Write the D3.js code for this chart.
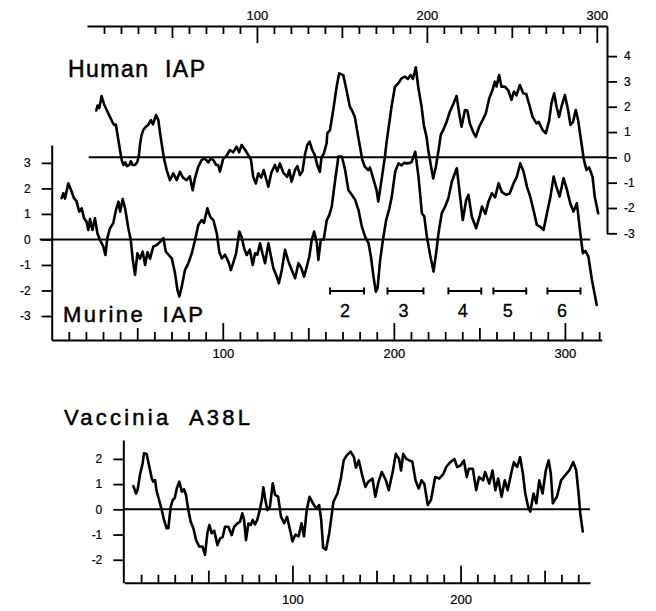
<!DOCTYPE html>
<html><head><meta charset="utf-8">
<script src="https://cdn.jsdelivr.net/npm/d3@7"></script>
<style>body{margin:0;background:#fff}svg{display:block}</style>
</head><body>
<svg id="c" width="656" height="611"></svg>
<script>
// ---------- DATA (residue position, hydrophobicity value) ----------
const humanProfile=[[5.5,1.85],[6.2,2.05],[7.2,1.95],[8.6,2.42],[10,2.1],[11.6,1.87],[13.5,1.6],[15.3,1.35],[15.9,1.28],[17,1.3],[17.8,0.95],[19.4,0.29],[20.4,-0.1],[21.5,-0.3],[22.5,-0.2],[23.5,-0.35],[24.9,-0.3],[25.8,-0.15],[26.8,-0.3],[28.2,-0.3],[29.5,-0.2],[30.5,0.05],[31.2,0.5],[32,0.85],[33.1,1.08],[34.5,1.2],[36,1.28],[37.6,1.47],[38.8,1.3],[40.6,1.67],[42,1.47],[43,0.96],[44.5,0.29],[45.5,-0.1],[46.9,-0.5],[48.8,-0.9],[50.8,-0.63],[52.8,-0.9],[54.7,-0.57],[56.5,-0.8],[58.6,-0.9],[60.5,-0.75],[62.2,-1.3],[63.5,-0.83],[65.5,-0.37],[67.5,-0.1],[69.4,-0.05],[71.4,-0.2],[72.8,-0.05],[74.3,-0.1],[76,-0.3],[77.2,-0.3],[78.2,-0.57],[80.2,-0.04],[82,0.05],[84.1,0.29],[86,0.2],[88,0.42],[89.5,0.2],[91,0.49],[93,0.3],[94.9,0.09],[96.5,-0.1],[97.8,-0.77],[99.4,-1.03],[100.8,-0.63],[102.5,-0.8],[104,-0.5],[106.7,-1.16],[108.5,-0.6],[110.6,-0.3],[112,-0.55],[113.5,-0.24],[115.5,-0.6],[117.8,-0.77],[119,-0.5],[120.4,-0.96],[122.4,-0.5],[123.8,-0.35],[125.3,-0.7],[126.8,-0.55],[128.2,0.09],[129.6,0.49],[131,0.62],[132.5,0.3],[134,0.1],[135.5,-0.3],[137,-0.57],[138,0.0],[139.4,0.16],[141,0.55],[141.4,0.95],[143,1.08],[144.9,1.87],[146.9,2.79],[148.4,3.32],[150.8,3.25],[152.7,2.66],[154.7,2.0],[156,1.85],[157.6,1.6],[159.6,0.81],[161,0.29],[162,-0.1],[163.5,-0.37],[165.5,-0.5],[166.5,-0.4],[168.4,-0.83],[170.4,-1.29],[171.4,-1.75],[173.3,-0.9],[175.3,0.02],[176.2,0.55],[177.3,1.08],[179.2,2.0],[181.2,2.79],[183.1,2.92],[185.1,3.12],[187.1,3.19],[188.8,3.1],[190.4,3.25],[191.8,3.1],[193.5,3.56],[194.9,2.79],[196.9,2.0],[198.2,1.28],[199.8,0.81],[200.8,0.29],[201.8,-0.1],[203.7,-0.83],[205.3,-0.37],[207.2,0.42],[208.2,0.9],[209.6,1.08],[211.6,1.4],[213.5,1.8],[215.5,2.1],[217.5,2.43],[219,1.74],[220.4,1.21],[222.4,1.87],[223.8,1.85],[225.3,1.34],[227.2,1.01],[228.8,0.81],[230.8,1.21],[232.8,1.47],[234.7,1.74],[236.7,2.33],[238.6,2.66],[240,2.99],[241,2.8],[242.5,3.25],[243.9,2.79],[245.8,2.8],[247.8,2.66],[249.8,2.27],[251.2,2.6],[252.7,2.45],[254.7,2.86],[256.7,2.53],[258.5,2.5],[260.6,2.0],[262.2,1.6],[264.5,1.34],[265.8,1.4],[268.1,1.08],[270,0.95],[272,1.47],[273.3,2.13],[274.9,2.53],[276.3,2.0],[277.8,1.6],[279.2,2.0],[281.2,2.46],[283.1,1.87],[284.5,1.28],[286,1.4],[287.6,1.87],[289,1.47],[291,0.55],[292.4,-0.1],[293.9,-0.5],[295.5,-0.4],[297.5,-0.77],[298.8,-1.56],[300.8,-2.21]];

const murineProfile=[[5.8,1.62],[6.8,1.81],[7.8,1.6],[9.7,2.2],[11.7,1.87],[13,1.62],[14.5,1.5],[16.1,1.09],[17.5,1.22],[18.9,0.83],[20.3,0.7],[21.4,0.37],[22.4,0.8],[23.8,0.37],[25.3,0.83],[26.7,0.24],[28.2,-0.02],[30.2,-0.28],[31.4,-0.61],[32.5,0.05],[34.1,0.44],[36,0.64],[37.6,1.16],[39,1.48],[40,1.09],[41.5,1.58],[42.9,1.22],[44.8,0.44],[46.2,-0.02],[47.4,-0.8],[48.7,-1.39],[50.1,-0.54],[51.6,-0.75],[53.2,-0.48],[54.6,-1.0],[56,-0.5],[57.5,-0.75],[59.4,-0.28],[61.4,-0.22],[63.3,-0.1],[65.3,0.05],[66.7,-0.48],[68.3,-0.6],[70.2,-0.74],[72.1,-1.33],[73.5,-1.98],[74.6,-2.24],[76,-1.85],[77.9,-1.2],[79.9,-0.93],[81.9,-0.54],[83.8,-0.02],[85.7,0.57],[87.7,0.76],[89,0.65],[91,1.22],[92.6,0.89],[94.5,0.76],[96.5,0.24],[98,-0.5],[99.4,-0.74],[101.3,-0.6],[103.3,-0.87],[104.7,-1.2],[106.2,-0.9],[107.8,-0.54],[109.7,0.31],[111,0.1],[112.5,-0.35],[114,-0.61],[115.8,-0.4],[117.5,-1.0],[118.9,-0.54],[120.2,-0.6],[121.8,-0.15],[123.2,-0.55],[124.7,-0.93],[126.7,-0.15],[128,-0.6],[129.6,-1.13],[131.2,-1.39],[132.8,-1.72],[134.5,-1.2],[136.4,-0.41],[138.4,-0.87],[140.3,-1.2],[142.3,-1.52],[144.2,-0.93],[145.8,-1.1],[147.5,-1.46],[149.1,-1.07],[150.6,-0.67],[152,-0.02],[153.4,0.31],[155,-0.15],[155.9,-0.8],[157.3,-0.02],[159,0.0],[160.8,0.76],[162.3,0.96],[163.7,1.29],[165.7,2.33],[167.6,3.25],[169.6,3.25],[171.5,2.73],[173.4,1.94],[175.4,1.75],[177.4,1.55],[179.3,1.16],[181.3,0.5],[183.2,0.11],[185.2,-0.15],[186.6,-0.67],[188.1,-1.46],[189.5,-2.05],[190.5,-1.9],[192,-0.8],[193.6,-0.02],[195.5,0.76],[197.4,1.22],[198.8,1.68],[200.8,2.66],[202.7,2.98],[204.5,2.9],[206,3.0],[207.6,2.98],[209.5,3.0],[210.5,3.05],[212.5,3.44],[214.4,2.46],[216.4,1.03],[217.8,0.9],[219.3,0.11],[221.2,-0.61],[223.2,-1.26],[224.7,-0.54],[226.1,0.24],[228,1.03],[230,1.29],[231.9,1.62],[233.9,2.27],[236.8,2.79],[238.3,1.94],[240.3,0.76],[242.3,1.55],[243.6,1.75],[245.6,0.89],[248.1,0.44],[250.1,0.89],[251.5,1.29],[253.5,1.0],[255.3,1.48],[257.3,1.81],[259.2,1.65],[261.2,2.2],[263.2,1.85],[265.7,1.75],[267.7,1.8],[270,2.2],[271.9,2.46],[273.9,2.98],[275.8,2.66],[277.8,2.07],[279.7,1.68],[281.6,1.16],[283.6,0.57],[285.5,0.5],[287.5,0.37],[289.5,1.03],[291.4,1.62],[293.4,2.46],[295,2.07],[296.9,1.68],[299.2,2.4],[301.2,1.94],[303.1,1.42],[305,1.09],[307,1.42],[309,0.24],[310.5,-0.54],[312,-0.45],[313.7,-0.67],[315.8,-1.59],[318.6,-2.57]];

const vacciniaProfile=[[5.4,0.92],[7,0.63],[8,0.8],[9.3,1.36],[10.9,1.82],[11.7,2.22],[13.3,2.19],[14.9,1.69],[16.3,1.23],[17.2,1.1],[18.3,1.16],[19.3,0.7],[20.7,0.37],[22.3,-0.03],[23.6,-0.42],[25.2,-0.75],[26.2,-0.75],[27.6,0.1],[28.8,0.37],[30,0.45],[31.2,0.83],[32.7,1.1],[34.2,0.7],[35.5,0.8],[36.7,0.57],[38.1,-0.03],[39.5,-0.49],[41.1,-0.75],[42.7,-1.22],[44.6,-1.48],[46.5,-1.48],[48,-1.81],[49.4,-0.95],[50.6,-0.62],[52,-0.95],[53.5,-0.85],[55.4,-1.42],[57,-1.15],[58.5,-1.1],[59.9,-0.69],[61.9,-0.69],[63.9,-1.02],[65.3,-0.7],[67.3,-0.56],[68.8,-0.5],[70.2,-0.16],[71.2,-0.4],[72.4,-1.22],[73.8,-0.56],[75.2,-0.62],[76.4,-0.42],[77.7,-0.6],[79.1,-0.42],[80.8,0.04],[81.8,0.37],[82.7,0.87],[83.9,0.37],[85.1,-0.03],[86.6,0.1],[88.3,1.03],[89.7,0.57],[91.5,0.5],[93.2,-0.29],[95.1,-0.55],[96.8,-0.3],[98.8,-0.88],[100,-1.27],[101.8,-1.0],[103.7,-1.07],[105.4,-0.55],[106.9,-1.07],[108.5,-0.03],[110.2,0.5],[112.2,0.24],[114.1,0.04],[115.9,0.17],[117.1,-0.42],[118.3,-1.53],[120,-1.6],[121.9,-0.94],[124.4,0.3],[126.8,0.63],[128.8,1.22],[130.5,1.94],[132.2,2.13],[134.6,2.29],[136.6,2.07],[137.8,1.65],[139.5,1.94],[141.5,1.35],[143.4,0.89],[145.1,1.09],[147.6,1.22],[149.3,0.5],[151.2,1.09],[153.2,1.48],[155.6,1.15],[157.3,0.76],[159.8,1.54],[161.5,2.2],[163.4,2.0],[164.6,1.54],[165.9,2.2],[167.7,2.0],[169.5,1.94],[171.3,1.9],[173.2,1.15],[175.1,0.82],[176.8,1.15],[178.5,1.0],[180.5,0.17],[182.4,0.37],[184.9,1.28],[187.3,1.22],[189.8,1.41],[191.5,1.68],[193.9,1.87],[196.3,2.0],[198,1.68],[200,1.74],[202,1.94],[203.7,1.28],[204.9,1.61],[207.3,1.61],[209.3,0.76],[211,1.28],[213.4,1.15],[214.6,1.48],[217.1,1.02],[219,1.54],[220.7,0.76],[222.4,1.22],[224.4,0.5],[226.3,1.15],[228,0.76],[230.5,1.54],[231.7,1.87],[233.7,1.68],[235.4,2.07],[237.1,1.41],[238.5,0.63],[240.2,0.1],[241.5,-0.09],[243.4,0.63],[245.1,0.24],[246.8,1.15],[248.8,0.63],[250.7,1.54],[252.4,1.94],[253.7,1.41],[254.9,0.24],[257.3,0.5],[259.8,1.15],[262.2,1.35],[264.6,1.54],[267.1,1.87],[268.8,1.54],[270.2,0.63],[271.2,-0.16],[272.7,-0.88]];

// transmembrane-like segments marked under the murine curve
const segStart=[162.7,196.3,231.9,258.2,289.8];
const segEnd=[182.6,217.3,251.1,277.4,309.1];
const segLabel=["2","3","4","5","6"];

// tick values / labels
const humanXTicks=d3.range(10,301,10);
const humanYTicks=[-3,-2,-1,0,1,2,3,4];
const murineXTicks=d3.range(10,321,10);
const murineYTicks=[-3,-2,-1,0,1,2,3];
const vacciniaXTicks=d3.range(10,271,10);
const vacciniaYTicks=[-2,-1,0,1,2];
const labelledX=[100,200,300];
const titles=["Human  IAP","Murine  IAP","Vaccinia  A38L"];

// ---------- DRAW ----------
const ink="#000";
const font="'Liberation Sans', Arial, Helvetica, sans-serif";
const svg=d3.select("#c");
const tickLen=d=> d%100===0?17:(d%50===0?12:8);
const fmtX=d=> labelledX.includes(d)?String(d):"";
const fmtY=d=> String(d);

function styleAxis(g,fs){
  g.select(".domain").attr("stroke",ink).attr("stroke-width",2);
  g.selectAll(".tick line").attr("stroke",ink).attr("stroke-width",1.8);
  g.selectAll(".tick text").attr("fill",ink).attr("font-family",font).attr("font-size",fs)
    .attr("stroke",ink).attr("stroke-width",0.2);
}
const line=(x,y)=>d3.line().x(d=>x(d[0])).y(d=>y(d[1])).curve(d3.curveLinear);
function drawCurve(data,x,y){
  svg.append("path").datum(data).attr("d",line(x,y)).attr("fill","none")
    .attr("stroke",ink).attr("stroke-width",2.6).attr("stroke-linejoin","round").attr("stroke-linecap","round");
}

// ---- Human IAP (top axis + right axis) ----
const xH=d3.scaleLinear().domain([0,306]).range([87,607]);
const yH=d3.scaleLinear().domain([-3,5.19]).range([233.3,26]);
const gTop=svg.append("g").attr("transform",`translate(0,${yH.range()[1]})`)
  .call(d3.axisTop(xH).tickValues(humanXTicks).tickSizeInner(-8).tickSizeOuter(0).tickPadding(6).tickFormat(fmtX));
gTop.selectAll(".tick line").attr("y2",d=>tickLen(d));
styleAxis(gTop,13);
const gRight=svg.append("g").attr("transform",`translate(${xH.range()[1]},0)`)
  .call(d3.axisRight(yH).tickValues(humanYTicks).tickSize(10).tickSizeOuter(0).tickPadding(7).tickFormat(fmtY));
styleAxis(gRight,12);
svg.append("line").attr("x1",xH(1)).attr("x2",xH.range()[1]).attr("y1",yH(0)).attr("y2",yH(0))
  .attr("stroke",ink).attr("stroke-width",2);
drawCurve(humanProfile,xH,yH);

// ---- Murine IAP (left axis + bottom axis) ----
const xM=d3.scaleLinear().domain([0,321.5]).range([51.7,601.7]);
const yM=d3.scaleLinear().domain([-3.94,3.7]).range([340,145]);
const gML=svg.append("g").attr("transform",`translate(${xM.range()[0]},0)`)
  .call(d3.axisLeft(yM).tickValues(murineYTicks).tickSize(10).tickSizeOuter(0).tickPadding(11).tickFormat(fmtY));
styleAxis(gML,12);
const gMB=svg.append("g").attr("transform",`translate(0,${yM.range()[0]})`)
  .call(d3.axisBottom(xM).tickValues(murineXTicks).tickSizeInner(-8).tickSizeOuter(0).tickPadding(9).tickFormat(fmtX));
gMB.selectAll(".tick line").attr("y2",d=>-tickLen(d));
styleAxis(gMB,13);
svg.append("line").attr("x1",xM.range()[0]-12).attr("x2",xM(314.8)).attr("y1",yM(0)).attr("y2",yM(0))
  .attr("stroke",ink).attr("stroke-width",2);
drawCurve(murineProfile,xM,yM);

// segment markers
const segY=yM(-2.02);
const segs=svg.append("g").selectAll("g").data(segStart.map((s,i)=>({s,e:segEnd[i],l:segLabel[i]}))).join("g");
segs.append("line").attr("x1",d=>xM(d.s)).attr("x2",d=>xM(d.e)).attr("y1",segY).attr("y2",segY).attr("stroke",ink).attr("stroke-width",2);
segs.append("line").attr("x1",d=>xM(d.s)).attr("x2",d=>xM(d.s)).attr("y1",segY-3.5).attr("y2",segY+3.5).attr("stroke",ink).attr("stroke-width",2);
segs.append("line").attr("x1",d=>xM(d.e)).attr("x2",d=>xM(d.e)).attr("y1",segY-3.5).attr("y2",segY+3.5).attr("stroke",ink).attr("stroke-width",2);
segs.append("text").attr("x",d=>xM((d.s+d.e)/2)-2).attr("y",segY+26).attr("text-anchor","middle")
  .attr("font-family",font).attr("font-size",18).attr("fill",ink).attr("stroke",ink).attr("stroke-width",0.3).text(d=>d.l);

// ---- Vaccinia A38L ----
const xV=d3.scaleLinear().domain([0,277]).range([124.3,590]);
const yV=d3.scaleLinear().domain([-2.91,2.75]).range([582.7,440]);
const gVL=svg.append("g").attr("transform",`translate(${xV.range()[0]-1},0)`)
  .call(d3.axisLeft(yV).tickValues(vacciniaYTicks).tickSize(10).tickSizeOuter(0).tickPadding(11).tickFormat(fmtY));
styleAxis(gVL,12);
const gVB=svg.append("g").attr("transform",`translate(0,${yV.range()[0]})`)
  .call(d3.axisBottom(xV).tickValues(vacciniaXTicks).tickSizeInner(-8).tickSizeOuter(0).tickPadding(12).tickFormat(fmtX));
gVB.selectAll(".tick line").attr("y2",d=>-tickLen(d));
styleAxis(gVB,13);
svg.append("line").attr("x1",xV(0)).attr("x2",xV(277)).attr("y1",yV(0)).attr("y2",yV(0))
  .attr("stroke",ink).attr("stroke-width",2);
drawCurve(vacciniaProfile,xV,yV);

// ---- titles ----
const titlePos=[[68,77,23,137],[63,321.7,22,140],[64,425,22,186]];
svg.append("g").selectAll("text").data(titles).join("text")
  .attr("x",(d,i)=>titlePos[i][0]).attr("y",(d,i)=>titlePos[i][1])
  .attr("font-size",(d,i)=>titlePos[i][2]).attr("textLength",(d,i)=>titlePos[i][3])
  .attr("lengthAdjust","spacing").attr("font-family",font).attr("fill",ink)
  .attr("stroke",ink).attr("stroke-width",0.5)
  .attr("xml:space","preserve").style("white-space","pre").text(d=>d);
</script>
</body></html>
